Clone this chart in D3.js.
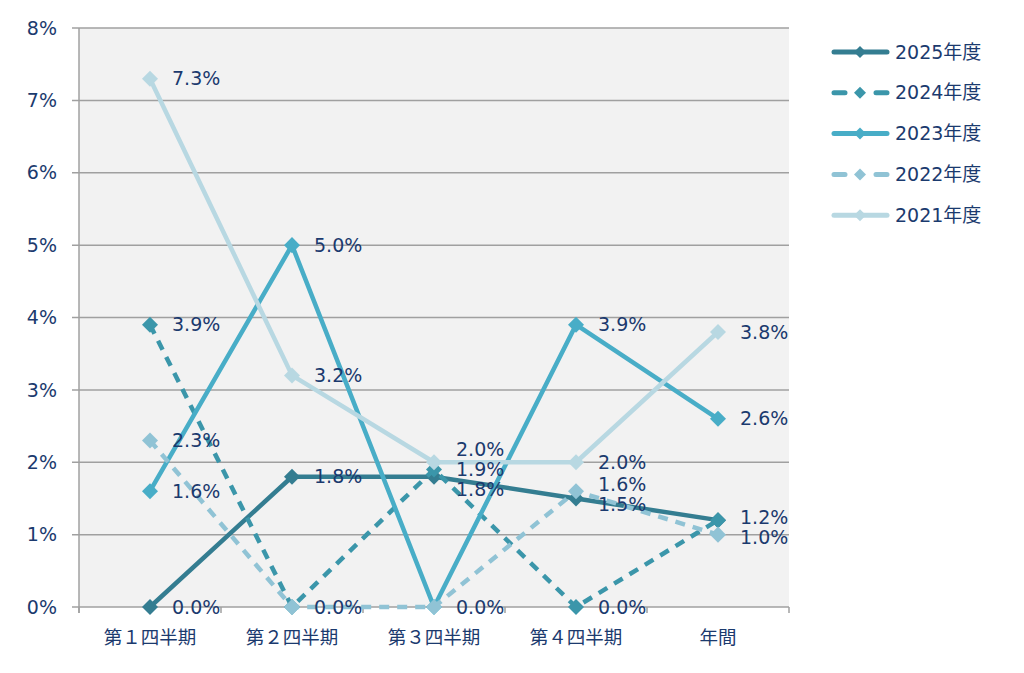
<!DOCTYPE html>
<html>
<head>
<meta charset="utf-8">
<script src="https://cdn.jsdelivr.net/npm/d3@7"></script>
<style>
  body { margin: 0; background: #ffffff; }
  text { font-family: "DejaVu Sans", "Noto Sans CJK JP", sans-serif; fill: #1b3a6e; }
</style>
</head>
<body>
<div id="chart"></div>
<script>
// categories and tick labels
const categories = ["第１四半期", "第２四半期", "第３四半期", "第４四半期", "年間"];
const yTicks = [0, 1, 2, 3, 4, 5, 6, 7, 8];

// series names and values (%)
const seriesNames = ["2025年度", "2024年度", "2023年度", "2022年度", "2021年度"];
const v2025 = [0.0, 1.8, 1.8, 1.5, 1.2];
const v2024 = [3.9, 0.0, 1.9, 0.0, 1.2];
const v2023 = [1.6, 5.0, 0.0, 3.9, 2.6];
const v2022 = [2.3, 0.0, 0.0, 1.6, 1.0];
const v2021 = [7.3, 3.2, 2.0, 2.0, 3.8];

const seriesColors = ["#347d91", "#3b96aa", "#48adc7", "#90c3d5", "#b8d8e2"];
const seriesDashed = [false, true, false, true, false];

const series = seriesNames.map((name, i) => ({
    name: name,
    values: [v2025, v2024, v2023, v2022, v2021][i],
    color: seriesColors[i],
    dashed: seriesDashed[i]
}));

// set the dimensions and margins of the graph
const width = 1024, height = 673;
const plot = {left: 79, right: 789, top: 28, bottom: 607};

const svg = d3.select("#chart")
    .append("svg")
    .attr("width", width)
    .attr("height", height);

const x = d3.scaleBand()
    .domain(categories)
    .range([plot.left, plot.right])
    .padding(0);

const y = d3.scaleLinear()
    .domain([0, 8])
    .range([plot.bottom, plot.top]);

const cx = c => x(c) + x.bandwidth() / 2;

// plot area background
svg.append("rect")
    .attr("x", plot.left)
    .attr("y", plot.top)
    .attr("width", plot.right - plot.left)
    .attr("height", plot.bottom - plot.top)
    .attr("fill", "#f2f2f2");

// gridlines
svg.append("g")
    .selectAll("line")
    .data(yTicks)
    .join("line")
    .attr("x1", plot.left - 7)
    .attr("x2", plot.right)
    .attr("y1", d => y(d))
    .attr("y2", d => y(d))
    .attr("stroke", "#a0a0a0")
    .attr("stroke-width", 1.5);

// y axis line
svg.append("line")
    .attr("x1", plot.left).attr("x2", plot.left)
    .attr("y1", plot.top).attr("y2", plot.bottom + 6)
    .attr("stroke", "#a0a0a0")
    .attr("stroke-width", 1.5);

// category tick marks at band boundaries
const boundaries = categories.map(c => x(c)).concat([plot.right]);
svg.append("g")
    .selectAll("line")
    .data(boundaries)
    .join("line")
    .attr("x1", d => d).attr("x2", d => d)
    .attr("y1", plot.bottom).attr("y2", plot.bottom + 6)
    .attr("stroke", "#a0a0a0")
    .attr("stroke-width", 1.5);

// y tick labels
svg.append("g")
    .selectAll("text")
    .data(yTicks)
    .join("text")
    .attr("x", 57)
    .attr("y", d => y(d))
    .attr("dy", "0.35em")
    .attr("text-anchor", "end")
    .style("font-size", "19px")
    .text(d => d + "%");

// category labels
svg.append("g")
    .selectAll("text")
    .data(categories)
    .join("text")
    .attr("x", d => cx(d))
    .attr("y", 638)
    .attr("dy", "0.35em")
    .attr("text-anchor", "middle")
    .style("font-size", "18.5px")
    .style("font-family", "'Noto Sans CJK JP', sans-serif")
    .text(d => d);

// lines and markers
const line = d3.line()
    .x((d, i) => cx(categories[i]))
    .y(d => y(d));

const diamond = d3.symbol().type(d3.symbolSquare).size(128);

series.forEach(s => {
    const g = svg.append("g");
    g.append("path")
        .datum(s.values)
        .attr("d", line)
        .attr("fill", "none")
        .attr("stroke", s.color)
        .attr("stroke-width", 4.5)
        .attr("stroke-linejoin", "round")
        .attr("stroke-dasharray", s.dashed ? "10,8" : null);
    g.selectAll("path.marker")
        .data(s.values)
        .join("path")
        .attr("class", "marker")
        .attr("d", diamond)
        .attr("transform", (d, i) => "translate(" + cx(categories[i]) + "," + y(d) + ") rotate(45)")
        .attr("fill", s.color);
});

// data labels, spread apart where they collide
const fmt = d3.format(".1f");
const minGap = 20;
categories.forEach((c, ci) => {
    let seen = {};
    let labels = [];
    series.forEach(s => {
        const v = s.values[ci];
        if (seen[v]) return;
        seen[v] = true;
        labels.push({v: v, ly: y(v)});
    });
    labels.sort((a, b) => a.ly - b.ly);
    for (let k = 0; k < 60; k++) {
        for (let i = 0; i < labels.length - 1; i++) {
            const gap = labels[i + 1].ly - labels[i].ly;
            if (gap < minGap) {
                const shift = (minGap - gap) / 2;
                labels[i].ly -= shift;
                labels[i + 1].ly += shift;
            }
        }
    }
    svg.append("g")
        .selectAll("text")
        .data(labels)
        .join("text")
        .attr("x", cx(c) + 22)
        .attr("y", d => d.ly)
        .attr("dy", "0.35em")
        .style("font-size", "19px")
        .text(d => fmt(d.v) + "%");
});

// legend
const legend = svg.append("g")
    .selectAll("g")
    .data(series)
    .join("g")
    .attr("transform", (d, i) => "translate(831," + (52 + i * 40.8) + ")");

legend.append("line")
    .attr("x1", 3).attr("x2", 56)
    .attr("y1", 0).attr("y2", 0)
    .attr("stroke", d => d.color)
    .attr("stroke-width", 5)
    .attr("stroke-linecap", "round")
    .attr("stroke-dasharray", d => d.dashed ? "11,31" : null);

legend.append("path")
    .attr("d", d3.symbol().type(d3.symbolSquare).size(72))
    .attr("transform", "translate(29,0) rotate(45)")
    .attr("fill", d => d.color);

legend.append("text")
    .attr("x", 64)
    .attr("y", 0)
    .attr("dy", "0.35em")
    .style("font-size", "19px")
    .text(d => d.name);
</script>
</body>
</html>
